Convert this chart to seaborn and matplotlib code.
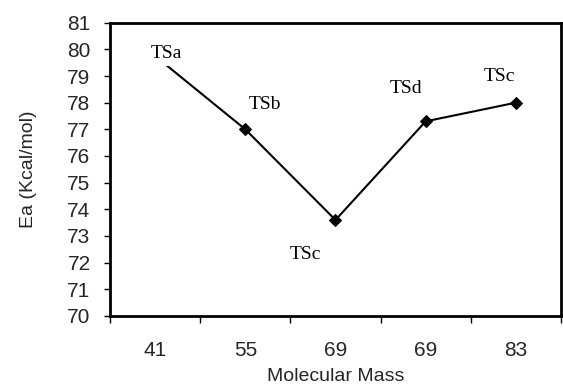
import matplotlib
matplotlib.use("Agg")
import matplotlib.pyplot as plt
import seaborn as sns
import numpy as np

categories = ["41", "55", "69", "69", "83"]
energies = [79.75, 77.0, 73.6, 77.3, 78.0]
point_labels = ["TSa", "TSb", "TSc", "TSd", "TSc"]
y_ticks = list(range(70, 82))

sns.set_theme(style="white")
plt.rcParams["font.family"] = ["Liberation Sans", "DejaVu Sans"]

fig = plt.figure(figsize=(5.63, 3.89), dpi=100)
ax = fig.add_axes([0.1954, 0.1877, 0.801, 0.754])

pos = np.arange(len(categories))
sns.lineplot(x=pos, y=energies, ax=ax, color="black", linewidth=1.5,
             marker="D", markersize=6.5, markeredgecolor="black",
             markerfacecolor="black")

ax.set_xlim(-0.5, len(categories) - 0.5)
ax.set_ylim(70, 81)
ax.set_yticks(y_ticks)
ax.set_yticklabels([str(t) for t in y_ticks], fontsize=15)
ax.set_xticks(pos)
ax.set_xticklabels(categories, fontsize=15)
ax.set_xticks(np.arange(-0.5, len(categories), 1.0), minor=True)
ax.tick_params(axis="x", which="major", length=0, pad=18)
ax.tick_params(axis="x", which="minor", length=5, width=1, color="black",
               direction="out", bottom=True)
ax.tick_params(axis="y", which="major", length=4, width=1, color="black",
               direction="out", left=True, pad=10)

for s in ax.spines.values():
    s.set_color("black")
    s.set_linewidth(2)

ax.set_xlabel("Molecular Mass", fontsize=14, labelpad=6)
ax.set_ylabel("Ea (Kcal/mol)", fontsize=14, labelpad=22)

# label offsets (in data units) relative to each point
offsets = [(0.12, 0.1), (0.22, 0.95), (-0.33, -1.3), (-0.22, 1.25), (-0.18, 0.98)]
serif = ["Liberation Serif", "DejaVu Serif"]
for i, (lab, (dx, dy)) in enumerate(zip(point_labels, offsets)):
    kw = {}
    if i == 0:
        kw["bbox"] = dict(facecolor="white", edgecolor="none", pad=3)
    ax.text(pos[i] + dx, energies[i] + dy, lab, fontsize=14, family=serif,
            ha="center", va="center", color="black", zorder=10, **kw)

fig.savefig("out.png", dpi=100)
